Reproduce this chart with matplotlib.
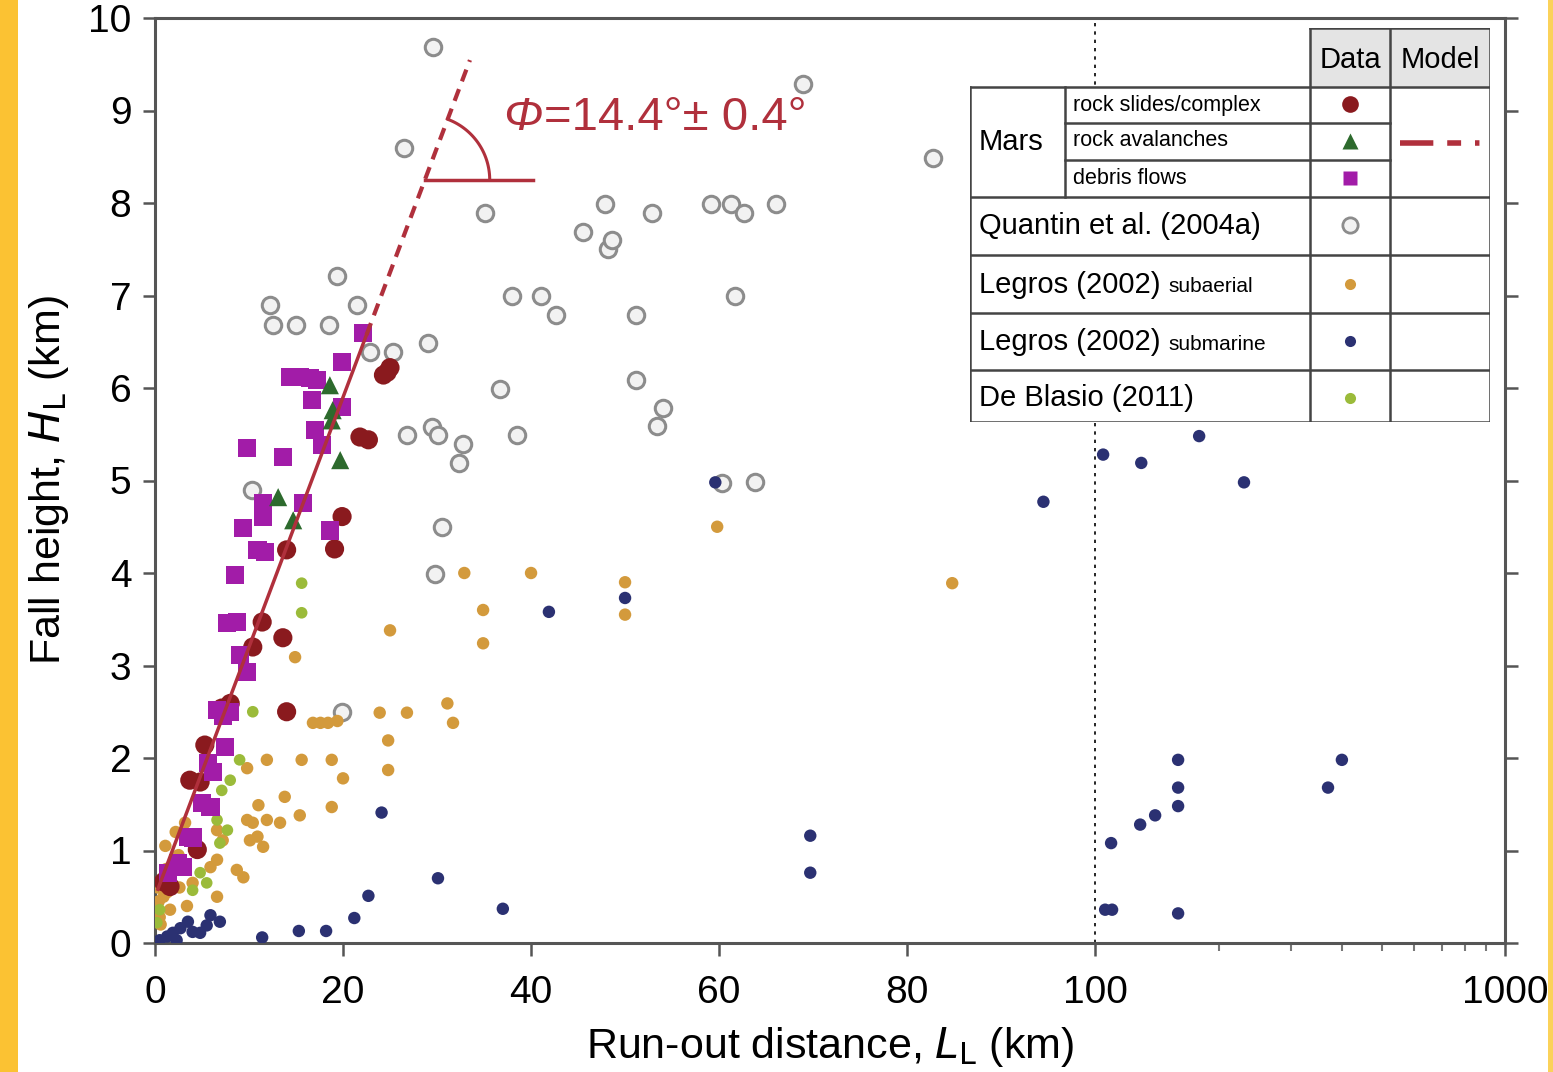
import numpy as np
import matplotlib
matplotlib.use("Agg")
from matplotlib import pyplot as plt
from matplotlib.patches import Rectangle

plt.rcParams['font.family'] = ['Liberation Sans', 'DejaVu Sans']

# ---- data (run-out distance km, fall height km) ----
rock_slides_x = [24.3, 25.0, 24.7, 21.8, 22.7, 19.9, 19.1, 14.0, 11.4, 13.6, 10.4, 8.0, 7.1, 14.0,
                 5.3, 4.8, 3.7, 4.5, 1.6, 0.9]
rock_slides_y = [6.14, 6.22, 6.17, 5.47, 5.44, 4.61, 4.26, 4.25, 3.47, 3.30, 3.20, 2.59, 2.54, 2.50,
                 2.14, 1.74, 1.76, 1.01, 0.61, 0.66]

rock_aval_x = [18.6, 18.9, 18.8, 19.7, 13.1, 14.7]
rock_aval_y = [6.03, 5.76, 5.65, 5.22, 4.82, 4.57]

debris_x = [22.1, 19.9, 14.4, 15.4, 16.5, 17.2, 16.7, 19.9, 17.0, 17.8, 9.8, 13.6,
            11.5, 15.7, 11.5, 9.4, 18.6, 10.9, 11.7, 8.5, 7.7, 8.7, 9.0, 9.8, 6.6, 8.0,
            7.2, 7.4, 5.6, 6.2, 5.0, 5.9, 3.5, 4.0, 2.4, 3.0, 1.4]
debris_y = [6.59, 6.28, 6.12, 6.12, 6.11, 6.09, 5.87, 5.79, 5.55, 5.38, 5.35, 5.25,
            4.76, 4.76, 4.61, 4.49, 4.46, 4.25, 4.23, 3.98, 3.46, 3.47, 3.11, 2.93, 2.52, 2.50,
            2.46, 2.12, 1.95, 1.85, 1.51, 1.47, 1.15, 1.14, 0.86, 0.82, 0.76]

quantin_x = [29.6, 68.9, 26.5, 82.8, 35.1, 47.9, 45.5, 48.2, 48.6, 52.9, 59.1, 61.3, 62.6, 66.1,
             61.7, 19.4, 38.0, 41.1, 42.7, 12.2, 12.6, 15.0, 18.5, 21.5, 29.0, 22.9, 25.3, 51.2,
             51.2, 36.7, 54.0, 53.4, 29.5, 30.1, 26.8, 38.5, 32.8, 32.3, 30.5, 29.8, 10.3, 19.9,
             60.3, 63.8]
quantin_y = [9.69, 9.29, 8.59, 8.49, 7.89, 7.99, 7.69, 7.50, 7.60, 7.89, 7.99, 7.99, 7.89, 7.99,
             6.99, 7.21, 6.99, 6.99, 6.79, 6.90, 6.68, 6.68, 6.68, 6.90, 6.49, 6.39, 6.39, 6.79,
             6.09, 5.99, 5.78, 5.59, 5.58, 5.49, 5.49, 5.49, 5.39, 5.19, 4.50, 3.99, 4.90, 2.50,
             4.97, 4.98]

subaerial_x = [32.9, 40.0, 34.9, 34.9, 25.0, 50.0, 50.0, 59.8, 84.8, 14.9, 31.1, 31.7, 23.9, 26.8,
               24.8, 24.8, 16.8, 17.6, 18.4, 19.4, 11.9, 15.6, 18.8, 20.0, 13.8, 11.0, 15.4, 18.8,
               9.8, 10.4, 11.9, 13.3, 10.9, 11.5, 10.1, 8.7, 9.4, 6.6, 6.6, 7.2, 6.6, 5.9,
               0.9, 1.6, 0.5, 4.0, 9.8, 2.5, 3.2, 1.2,
               0.4, 0.8, 1.3, 1.9, 2.6, 0.6, 1.1, 2.2, 3.4, 0.3]
subaerial_y = [4.00, 4.00, 3.60, 3.24, 3.38, 3.90, 3.55, 4.50, 3.89, 3.09, 2.59, 2.38, 2.49, 2.49,
               2.19, 1.87, 2.38, 2.38, 2.38, 2.40, 1.98, 1.98, 1.98, 1.78, 1.58, 1.49, 1.38, 1.47,
               1.33, 1.30, 1.33, 1.30, 1.15, 1.04, 1.11, 0.79, 0.71, 0.50, 1.22, 1.11, 0.90, 0.82,
               0.50, 0.36, 0.28, 0.65, 1.89, 0.95, 1.30, 0.80,
               0.45, 0.70, 0.55, 0.85, 0.60, 0.20, 1.05, 1.20, 0.40, 0.60]

submarine_x = [104.6, 129.6, 179.4, 230.8, 159.4, 159.4, 159.4, 140.1, 128.8, 109.4, 400.0, 370.0,
               105.8, 110.0, 159.4, 94.5, 59.6, 41.9, 50.0, 69.7, 69.7, 30.1, 37.0, 24.1, 22.7,
               21.2, 18.2, 15.3, 11.4, 5.9, 6.9, 3.5, 2.7, 1.3, 4.8, 0.5, 2.3, 5.5, 4.0, 1.9]
submarine_y = [5.28, 5.19, 5.48, 4.98, 1.98, 1.68, 1.48, 1.38, 1.28, 1.08, 1.98, 1.68,
               0.36, 0.36, 0.32, 4.77, 4.98, 3.58, 3.73, 1.16, 0.76, 0.70, 0.37, 1.41, 0.51,
               0.27, 0.13, 0.13, 0.06, 0.30, 0.23, 0.23, 0.16, 0.07, 0.11, 0.03, 0.03, 0.19, 0.12, 0.11]

deblasio_x = [15.6, 15.6, 10.4, 8.0, 7.1, 6.6, 7.7, 6.9, 4.8, 5.5, 4.0, 0.2, 0.5, 9.0]
deblasio_y = [3.89, 3.57, 2.50, 1.76, 1.65, 1.33, 1.22, 1.08, 0.76, 0.65, 0.57, 0.22, 0.36, 1.98]

# model fit H = a*L + b
model_a = 0.27
model_b = 0.5
phi_text = "=14.4°± 0.4°"

# colours
c_red = "#8a1a1e"
c_green = "#2d6a2d"
c_purple = "#a21ca8"
c_gray = "#8c8c8c"
c_tan = "#d39a3c"
c_navy = "#2b3172"
c_yg = "#9bbb3a"
c_model = "#b0303c"

# linear up to 100 km, then log up to 1000 km
K = 43.6


def fwd(x):
    x = np.asarray(x, dtype=float)
    return np.where(x <= 100, x, 100 + K * np.log10(np.maximum(x, 100) / 100))


def inv(u):
    u = np.asarray(u, dtype=float)
    return np.where(u <= 100, u, 100 * 10 ** ((np.maximum(u, 100) - 100) / K))


fig = plt.figure(figsize=(15.53, 10.72), dpi=100)
fig.patch.set_facecolor("white")
fig.patches.append(Rectangle((0, 0), 18 / 1553, 1, transform=fig.transFigure,
                             facecolor="#fbc233", edgecolor="none", zorder=0))
fig.patches.append(Rectangle((1548 / 1553, 0), 5 / 1553, 1, transform=fig.transFigure,
                             facecolor="#fbd25a", edgecolor="none", zorder=0))

ax = fig.add_axes([155 / 1553, 129 / 1072, 1350 / 1553, 925 / 1072])
ax.set_xscale("function", functions=(fwd, inv))
ax.set_xlim(0, 1000)
ax.set_ylim(0, 10)

ax.axvline(100, color="black", ls=(0, (2, 3)), lw=1.2, zorder=1)

ax.scatter(quantin_x, quantin_y, s=140, facecolor="#f2f2f2", edgecolor=c_gray, linewidth=2.2, zorder=2)
ax.scatter(submarine_x, submarine_y, s=80, color=c_navy, edgecolor="none", zorder=3)
ax.scatter(subaerial_x, subaerial_y, s=80, color=c_tan, edgecolor="none", zorder=3)
ax.scatter(deblasio_x, deblasio_y, s=70, color=c_yg, edgecolor="none", zorder=3)
ax.scatter(rock_slides_x, rock_slides_y, s=190, color=c_red, edgecolor="none", zorder=4)
ax.scatter(debris_x, debris_y, s=170, marker="s", color=c_purple, edgecolor="none", zorder=4)
ax.scatter(rock_aval_x, rock_aval_y, s=170, marker="^", color=c_green, edgecolor="none", zorder=5)

# model line: solid over the Mars data, dashed beyond
L_solid = np.array([0.3, 22.5])
L_dash = np.array([22.5, 33.5])
ax.plot(L_solid, model_a * L_solid + model_b, color=c_model, lw=2.5, zorder=6)
ax.plot(L_dash, model_a * L_dash + model_b, color=c_model, lw=3, ls=(0, (3, 2)), zorder=6)

# angle marker
h_ang = 8.25
L_ang = (h_ang - model_b) / model_a
ax.plot([L_ang, 40.2], [h_ang, h_ang], color=c_model, lw=2.5, zorder=6)
t = np.radians(np.linspace(0, 69, 40))
ax.plot(L_ang + 6.9 * np.cos(t), h_ang + 0.70 * np.sin(t), color=c_model, lw=2.2, zorder=6)
ax.text(37.0, 8.92, "Φ", color=c_model, fontsize=34, style="italic",
        va="center", ha="left", zorder=7)
ax.text(41.4, 8.92, phi_text, color=c_model, fontsize=34,
        va="center", ha="left", zorder=7)

# axes styling
ax.set_xticks([0, 20, 40, 60, 80, 100, 1000], ["0", "20", "40", "60", "80", "100", "1000"])
ax.set_xticks([200, 300, 400, 500, 600, 700, 800, 900], minor=True)
ax.set_xticklabels([], minor=True)
ax.set_yticks(range(0, 11))
ax.tick_params(axis="both", which="major", labelsize=28, length=9, width=1.8, color="#555555",
               direction="out", pad=8)
ax.tick_params(axis="x", which="major", pad=14)
ax.tick_params(axis="x", which="minor", length=6, width=1.5, color="#777777")
ax.tick_params(axis="y", which="both", right=True)
for sp in ax.spines.values():
    sp.set_color("#555555")
    sp.set_linewidth(2.2)
ax.set_xlabel(r"Run-out distance, $\mathit{L}_{\rm L}$ (km)", fontsize=31, labelpad=10)
ax.set_ylabel(r"Fall height, $\mathit{H}_{\rm L}$ (km)", fontsize=31, labelpad=12)

# ---- legend table (drawn in pixel coordinates of its own axes) ----
tb = fig.add_axes([970 / 1553, (1072 - 422) / 1072, 520 / 1553, 394 / 1072])
tb.set_xlim(970, 1490)
tb.set_ylim(422, 28)
tb.axis("off")
tb.patch.set_alpha(0)
tb.add_patch(Rectangle((970, 87), 520, 335, facecolor="white", edgecolor="none", zorder=0))
tb.add_patch(Rectangle((1310, 28), 180, 59, facecolor="#e4e4e4", edgecolor="none", zorder=0))

lc = "#444444"
lw_t = 1.8
for yy, x0 in [(28, 1310), (87, 970), (197, 970), (255, 970), (313, 970), (370, 970), (422, 970)]:
    tb.plot([x0, 1490], [yy, yy], color=lc, lw=lw_t)
for yy in [123, 160]:
    tb.plot([1065, 1390], [yy, yy], color=lc, lw=lw_t)
tb.plot([970, 970], [87, 422], color=lc, lw=lw_t)
tb.plot([1065, 1065], [87, 197], color=lc, lw=lw_t)
for xx in [1310, 1390, 1490]:
    tb.plot([xx, xx], [28, 422], color=lc, lw=lw_t)

tb.text(1350, 60, "Data", fontsize=21, ha="center", va="center")
tb.text(1440, 60, "Model", fontsize=21, ha="center", va="center")
tb.text(979, 142, "Mars", fontsize=21, ha="left", va="center")
tb.text(1073, 105, "rock slides/complex", fontsize=15.5, ha="left", va="center")
tb.text(1073, 141, "rock avalanches", fontsize=15.5, ha="left", va="center")
tb.text(1073, 178, "debris flows", fontsize=15.5, ha="left", va="center")
tb.text(979, 226, "Quantin et al. (2004a)", fontsize=21, ha="left", va="center")
tb.text(979, 285, "Legros (2002)", fontsize=21, ha="left", va="center")
tb.text(1168, 287, "subaerial", fontsize=15, ha="left", va="center")
tb.text(979, 342, "Legros (2002)", fontsize=21, ha="left", va="center")
tb.text(1168, 344, "submarine", fontsize=15, ha="left", va="center")
tb.text(979, 398, "De Blasio (2011)", fontsize=21, ha="left", va="center")

tb.plot([1350], [104], "o", ms=12, color=c_red, mec="none")
tb.plot([1350], [141], "^", ms=11, color=c_green, mec="none")
tb.plot([1350], [178], "s", ms=10, color=c_purple, mec="none")
tb.plot([1350], [225], "o", ms=11, mfc="#f2f2f2", mec=c_gray, mew=2)
tb.plot([1350], [284], "o", ms=8, color=c_tan, mec="none")
tb.plot([1350], [341], "o", ms=8, color=c_navy, mec="none")
tb.plot([1350], [398], "o", ms=8, color=c_yg, mec="none")
tb.plot([1400, 1482], [143, 143], color=c_model, lw=4, ls=(0, (6, 2.5, 2.5, 2.5, 0.8, 2.5)))

fig.savefig("out.png", dpi=100)
